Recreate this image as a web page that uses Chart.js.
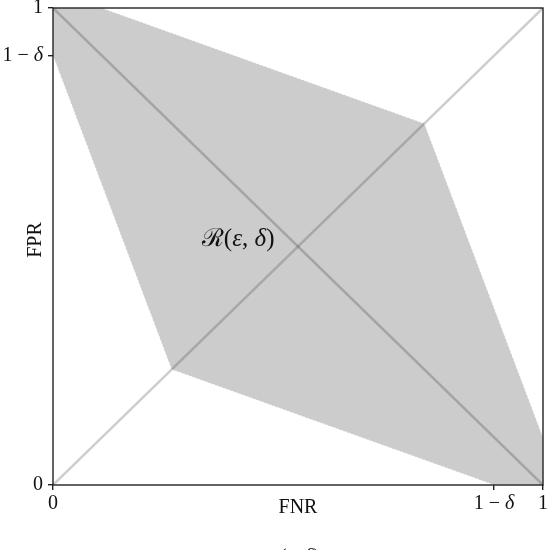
<!DOCTYPE html>
<html>
<head>
<meta charset="utf-8">
<script src="https://cdn.jsdelivr.net/npm/chart.js@4.4.1/dist/chart.umd.min.js"></script>
<style>
  html, body { margin: 0; padding: 0; background: #fff; }
  #wrap { width: 550px; height: 550px; position: relative; }
</style>
</head>
<body>
<div id="wrap"><canvas id="chart"></canvas></div>
<script>
// region R(eps, delta) (FNR, FPR)
const regionX = [0, 0.1, 0.758, 1, 1, 0.9, 0.242, 0, 0];
const regionY = [1, 1, 0.758, 0.1, 0, 0, 0.242, 0.9, 1];

// reference lines
const antiDiagX = [0, 1];
const antiDiagY = [1, 0];
const diagX = [0, 1];
const diagY = [0, 1];

// ticks (same on both axes)
const tickValues = [0, 0.9, 1];
const tickLabels = [["0"], ["1 \u2212 ", "δ"], ["1"]];

const SERIF = '"Liberation Serif", "DejaVu Serif", serif';

function toPoints(xs, ys) {
  return xs.map((x, i) => ({ x, y: ys[i] }));
}

// draw text made of upright / italic pieces
function drawRich(ctx, parts, x, y, align, size) {
  const fonts = parts.map((p, i) => (i % 2 === 1 ? "italic " : "") + size + "px " + SERIF);
  let total = 0;
  parts.forEach((p, i) => {
    ctx.font = fonts[i];
    total += ctx.measureText(p).width;
  });
  let cx = x;
  if (align === "center") cx = x - total / 2;
  if (align === "right") cx = x - total;
  ctx.textAlign = "left";
  parts.forEach((p, i) => {
    ctx.font = fonts[i];
    ctx.fillText(p, cx, y);
    cx += ctx.measureText(p).width;
  });
}

const decorPlugin = {
  id: "decor",
  afterDatasetsDraw(chart) {
    const { ctx, scales } = chart;
    ctx.save();
    ctx.fillStyle = "#111";
    ctx.textBaseline = "middle";

    // region label
    const lx = scales.x.getPixelForValue(0.452);
    const ly = scales.y.getPixelForValue(0.515);
    drawRich(ctx, ["\u211B(", "ε", ", ", "δ", ")"], lx, ly, "right", 25);
    ctx.restore();
  },
  afterDraw(chart) {
    const { ctx, chartArea: a, scales } = chart;
    ctx.save();
    // frame
    ctx.strokeStyle = "#222";
    ctx.lineWidth = 1.4;
    ctx.strokeRect(a.left, a.top, a.right - a.left, a.bottom - a.top);

    ctx.fillStyle = "#111";
    ctx.textBaseline = "middle";
    // x tick labels
    tickValues.forEach((v, i) => {
      const px = scales.x.getPixelForValue(v);
      drawRich(ctx, tickLabels[i], px, a.bottom + 19, "center", 20);
    });
    // y tick labels
    tickValues.forEach((v, i) => {
      const py = scales.y.getPixelForValue(v);
      drawRich(ctx, tickLabels[i], a.left - 10, py, "right", 20);
    });

    // axis titles
    ctx.font = "20px " + SERIF;
    ctx.textAlign = "center";
    ctx.fillText("FNR", (a.left + a.right) / 2, a.bottom + 23);
    ctx.save();
    ctx.translate(36, 240);
    ctx.rotate(-Math.PI / 2);
    ctx.fillText("FPR", 0, 0);
    ctx.restore();

    // caption, cut by the bottom edge
    ctx.textBaseline = "alphabetic";
    drawRich(ctx, ["(", "ε", ", ", "δ", ")"], 300, 563, "center", 20);
    ctx.restore();
  }
};

new Chart(document.getElementById("chart"), {
  type: "scatter",
  data: {
    datasets: [
      {
        data: toPoints(antiDiagX, antiDiagY),
        showLine: true,
        borderColor: "rgba(60,60,60,0.28)",
        borderWidth: 2.5,
        pointRadius: 0,
        order: 1
      },
      {
        data: toPoints(diagX, diagY),
        showLine: true,
        borderColor: "rgba(60,60,60,0.25)",
        borderWidth: 2.5,
        pointRadius: 0,
        order: 2
      },
      {
        data: toPoints(regionX, regionY),
        showLine: true,
        fill: "shape",
        backgroundColor: "#cccccc",
        borderColor: "rgba(255,255,255,0.85)",
        borderWidth: 1,
        borderDash: [2, 2],
        pointRadius: 0,
        order: 3
      }
    ]
  },
  options: {
    responsive: true,
    maintainAspectRatio: false,
    animation: false,
    layout: { padding: { top: 8, right: 7, left: 0, bottom: 0 } },
    plugins: {
      legend: { display: false },
      tooltip: { enabled: false }
    },
    scales: {
      x: {
        type: "linear",
        min: 0,
        max: 1,
        afterBuildTicks: (s) => { s.ticks = tickValues.map((v) => ({ value: v })); },
        afterFit: (s) => { s.height = 65; },
        ticks: { display: false },
        border: { display: false },
        grid: { drawOnChartArea: false, drawTicks: true, tickLength: 5, tickColor: "#222", lineWidth: 1.4 }
      },
      y: {
        type: "linear",
        min: 0,
        max: 1,
        afterBuildTicks: (s) => { s.ticks = tickValues.map((v) => ({ value: v })); },
        afterFit: (s) => { s.width = 53; },
        ticks: { display: false },
        border: { display: false },
        grid: { drawOnChartArea: false, drawTicks: true, tickLength: 5, tickColor: "#222", lineWidth: 1.4 }
      }
    }
  },
  plugins: [decorPlugin]
});
</script>
</body>
</html>
